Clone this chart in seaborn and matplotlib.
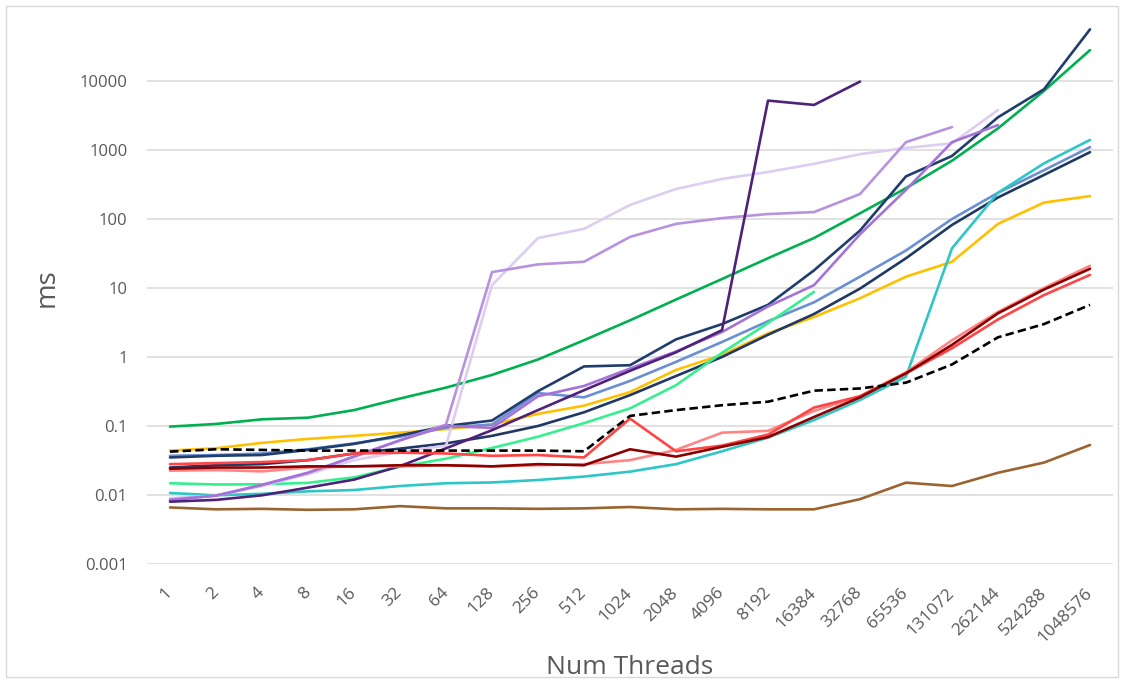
import numpy as np
import pandas as pd
import matplotlib
matplotlib.use("Agg")
import matplotlib.pyplot as plt
import matplotlib.transforms as mtransforms
from matplotlib.patches import Rectangle
import seaborn as sns

# Thread counts on the category axis
threads = [1, 2, 4, 8, 16, 32, 64, 128, 256, 512, 1024, 2048, 4096, 8192,
           16384, 32768, 65536, 131072, 262144, 524288, 1048576]

# Timings in ms, one list per implementation (None = not measured)
green = [0.098, 0.107, 0.125, 0.132, 0.17, 0.25, 0.36, 0.55, 0.92, 1.75, 3.4,
         6.8, 13.5, 27, 53, 121, 280, 700, 2060, 7200, 28000]
yellow = [0.044, 0.0475, 0.057, 0.065, 0.072, 0.08, 0.09, 0.105, 0.15, 0.197,
          0.31, 0.65, 1.07, 2.2, 3.8, 7.1, 14.6, 24, 85, 173, 215]
navy_a = [0.035, 0.037, 0.038, 0.045, 0.055, 0.073, 0.1, 0.12, 0.32, 0.73,
          0.76, 1.8, 3.0, 5.7, 18, 68, 415, 820, 2980, 7600, 56000]
light_blue = [0.037, 0.038, 0.04, 0.046, 0.056, 0.07, 0.095, 0.105, 0.3, 0.26,
              0.45, 0.85, 1.65, 3.3, 6.2, 14.6, 35, 100, 240, 510, 1100]
navy_b = [0.025, 0.027, 0.028, 0.032, 0.04, 0.047, 0.056, 0.072, 0.1, 0.158,
          0.28, 0.53, 1.0, 2.1, 4.2, 9.8, 27, 82, 205, 435, 930]
baseline = [0.0425, 0.046, 0.045, 0.044, 0.044, 0.044, 0.044, 0.044, 0.044,
            0.043, 0.14, 0.17, 0.2, 0.225, 0.325, 0.35, 0.425, 0.78, 1.93,
            3.0, 5.7]
red = [0.028, 0.029, 0.03, 0.032, 0.04, 0.041, 0.04, 0.037, 0.038, 0.035,
       0.128, 0.043, 0.052, 0.075, 0.185, 0.27, 0.58, 1.34, 3.5, 7.9, 15.5]
dark_red = [0.024, 0.025, 0.025, 0.026, 0.026, 0.027, 0.027, 0.026, 0.028,
            0.027, 0.046, 0.036, 0.05, 0.069, 0.135, 0.26, 0.58, 1.5, 4.3,
            9.5, 19]
pink = [0.0225, 0.023, 0.022, 0.025, 0.026, 0.026, 0.027, 0.026, 0.027, 0.028,
        0.032, 0.045, 0.08, 0.085, 0.165, 0.27, 0.6, 1.75, 4.5, 10, 21]
mint = [0.0148, 0.0142, 0.0143, 0.015, 0.018, 0.0257, 0.0336, 0.048, 0.07,
        0.11, 0.18, 0.39, 1.15, 3.1, 8.8, None, None, None, None, None, None]
teal = [0.0107, 0.0099, 0.0104, 0.0113, 0.0118, 0.0135, 0.0148, 0.0152,
        0.0165, 0.0185, 0.0218, 0.028, 0.043, 0.068, 0.122, 0.238, 0.52, 37.6,
        240, 640, 1400]
brown = [0.0066, 0.0062, 0.0063, 0.0061, 0.0062, 0.0069, 0.0064, 0.0064,
         0.0063, 0.0064, 0.0067, 0.0062, 0.0063, 0.0062, 0.0062, 0.0087,
         0.0151, 0.0135, 0.021, 0.0295, 0.053]
dark_purple = [0.008, 0.0085, 0.0099, 0.0128, 0.0167, 0.0262, 0.0475, 0.087,
               0.17, 0.33, 0.63, 1.17, 2.45, 5200, 4500, 9800,
               None, None, None, None, None]
purple = [0.0085, 0.0098, 0.014, 0.021, 0.036, 0.062, 0.1, 0.094, 0.27, 0.38,
          0.68, 1.2, 2.3, 5.4, 11, 60, 265, 1300, 2300, None, None]
mid_purple = [0.0085, 0.0098, 0.014, 0.021, 0.036, 0.062, 0.105, 17, 22, 24,
              55, 85, 103, 118, 126, 230, 1300, 2150, None, None, None]
lavender = [0.009, 0.0098, 0.0135, 0.02, 0.032, 0.042, 0.052, 11, 53, 72, 160,
            272, 380, 480, 630, 870, 1070, 1250, 3800, None, None]

# (values, colour, dashed) in drawing order
series = [
    (green, "#00B050", False),
    (yellow, "#FFC000", False),
    (light_blue, "#6A8FD2", False),
    (navy_a, "#203D6E", False),
    (navy_b, "#1F3864", False),
    (teal, "#2EC6C6", False),
    (mint, "#36F090", False),
    (brown, "#9A6430", False),
    (lavender, "#DDCDF1", False),
    (mid_purple, "#B892DF", False),
    (purple, "#A472D8", False),
    (dark_purple, "#4E2279", False),
    (pink, "#FF8585", False),
    (red, "#FF4545", False),
    (dark_red, "#8B0000", False),
    (baseline, "#000000", True),
]

sns.set_theme(style="white")
plt.rcParams["font.family"] = ["Open Sans", "DejaVu Sans"]

W, H = 1124, 683
fig = plt.figure(figsize=(W / 100, H / 100), dpi=100)
ax = fig.add_axes([147 / W, 119 / H, 966 / W, 552 / H])

pos = np.log2(threads)
for vals, col, dashed in series:
    df = pd.DataFrame({"pos": pos, "ms": vals}).dropna()
    sns.lineplot(data=df, x="pos", y="ms", ax=ax, color=col, linewidth=1.9,
                 linestyle=(0, (3.2, 1.6)) if dashed else "-",
                 solid_joinstyle="round", solid_capstyle="round")

ax.set_yscale("log")
ax.set_ylim(1e-3, 1e5)
ax.set_xlim(-0.5, len(threads) - 0.5)

yt = [1e-3, 1e-2, 1e-1, 1, 10, 100, 1000, 10000]
ax.set_yticks(yt)
ax.set_yticklabels(["0.001", "0.01", "0.1", "1", "10", "100", "1000", "10000"])
ax.yaxis.set_minor_locator(matplotlib.ticker.NullLocator())
ax.set_xticks(pos)
ax.set_xticklabels([str(t) for t in threads], rotation=45, ha="right",
                   va="center", rotation_mode="anchor")
off = mtransforms.ScaledTranslation(13 / 100, 0, fig.dpi_scale_trans)
for lbl in ax.get_xticklabels():
    lbl.set_transform(lbl.get_transform() + off)

ax.tick_params(axis="y", length=0, pad=14, labelsize=12, labelcolor="#595959")
ax.tick_params(axis="x", length=0, pad=19, labelsize=12.5, labelcolor="#595959")
ax.grid(axis="y", color="#D9D9D9", linewidth=1.1)
ax.grid(axis="x", visible=False)
for s in ax.spines.values():
    s.set_visible(False)

ax.set_xlabel("Num Threads", fontsize=19, color="#595959", labelpad=7)
ax.set_ylabel("ms", fontsize=20, color="#595959", labelpad=14)

fig.patches.append(Rectangle((6 / W, 6 / H), (W - 12) / W, (H - 12) / H,
                             transform=fig.transFigure, fill=False,
                             edgecolor="#D9D9D9", linewidth=1))

fig.savefig("out.png", dpi=100, facecolor="white")
